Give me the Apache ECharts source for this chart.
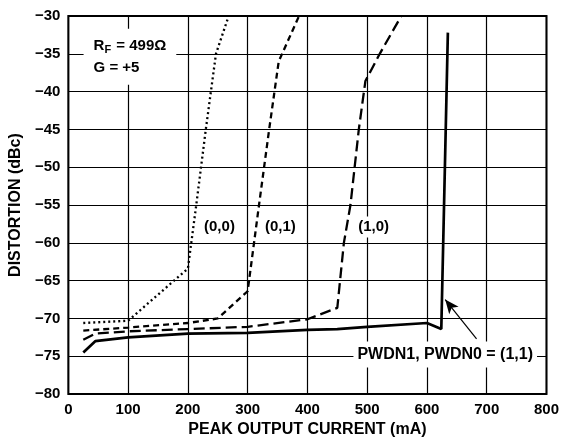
<!DOCTYPE html>
<html>
<head>
<meta charset="utf-8">
<script src="https://cdn.jsdelivr.net/npm/echarts@6/dist/echarts.min.js"></script>
<style>
html,body{margin:0;padding:0;background:#fff;}
#c{width:562px;height:443px;}
</style>
</head>
<body>
<div id="c"></div>
<script>
// Data (peak output current in mA, distortion in dBc)
const x00 = [25, 100, 200, 214, 230, 247, 267];
const y00 = [-70.6, -70.3, -63.4, -55, -45, -35, -30.3];

const x01 = [25, 100, 200, 250, 300, 319, 336, 352, 386];
const y01 = [-71.6, -71.2, -70.6, -70.0, -66.4, -55, -45, -36, -30];

const x10 = [25, 45, 100, 200, 300, 400, 450, 461, 472, 486, 497, 521, 557];
const y10 = [-72.8, -72.0, -71.7, -71.4, -71.1, -70.1, -68.6, -60, -55, -45, -38.6, -35, -30];

const x11 = [25, 45, 100, 200, 300, 400, 450, 500, 600, 624, 635];
const y11 = [-74.5, -73.0, -72.5, -72.0, -71.9, -71.5, -71.4, -71.1, -70.6, -71.4, -32.2];

const xTicks = [0, 100, 200, 300, 400, 500, 600, 700, 800];
const yTicks = [-80, -75, -70, -65, -60, -55, -50, -45, -40, -35, -30];

const FONT = '"Liberation Sans", Arial, Helvetica, sans-serif';
const pairs = (xs, ys) => xs.map((v, i) => [v, ys[i]]);
const lbl = (txt, x, y, pad, size) => ({
  coord: [x, y], value: txt,
  label: {show: true, position: 'inside', align: 'left', verticalAlign: 'middle',
    formatter: txt, fontFamily: FONT, fontWeight: 'bold', fontSize: size || 15, color: '#000',
    backgroundColor: '#fff', padding: pad || [3, 3, 3, 3]}
});

const chart = echarts.init(document.getElementById('c'), null, {renderer: 'canvas'});
chart.setOption({
  animation: false,
  backgroundColor: '#fff',
  grid: {left: 67, right: 15, top: 16, bottom: 44, show: true, borderColor: '#000', borderWidth: 2, backgroundColor: 'transparent'},
  xAxis: {
    type: 'value', min: xTicks[0], max: xTicks[xTicks.length - 1], interval: 100,
    name: 'PEAK OUTPUT CURRENT (mA)', nameLocation: 'middle', nameGap: 25,
    nameTextStyle: {fontFamily: FONT, fontWeight: 'bold', fontSize: 16, color: '#000'},
    axisLine: {show: false}, axisTick: {show: false},
    axisLabel: {margin: 8, fontFamily: FONT, fontWeight: 'bold', fontSize: 15, color: '#000'},
    splitLine: {show: true, lineStyle: {color: '#000', width: 1.2}}
  },
  yAxis: {
    type: 'value', min: yTicks[0], max: yTicks[yTicks.length - 1], interval: 5,
    name: 'DISTORTION (dBc)', nameLocation: 'middle', nameGap: 42,
    nameTextStyle: {fontFamily: FONT, fontWeight: 'bold', fontSize: 16, color: '#000'},
    axisLine: {show: false}, axisTick: {show: false},
    axisLabel: {margin: 8, fontFamily: FONT, fontWeight: 'bold', fontSize: 15, color: '#000',
      formatter: v => String(v).replace('-', '\u2212')},
    splitLine: {show: true, lineStyle: {color: '#000', width: 1.2}}
  },
  series: [
    {
      type: 'line', name: '(0,0)', data: pairs(x00, y00), symbol: 'none', clip: true,
      lineStyle: {color: '#000', width: 2.3, type: [2, 3]},
      markPoint: {symbol: 'circle', symbolSize: 0, data: [lbl('(0,0)', 222, -57.9)]}
    },
    {
      type: 'line', name: '(0,1)', data: pairs(x01, y01), symbol: 'none', clip: true,
      lineStyle: {color: '#000', width: 2.3, type: [6, 4]},
      markPoint: {symbol: 'circle', symbolSize: 0, data: [lbl('(0,1)', 324, -57.9)]}
    },
    {
      type: 'line', name: '(1,0)', data: pairs(x10, y10), symbol: 'none', clip: true,
      lineStyle: {color: '#000', width: 2.3, type: [11, 5]},
      markPoint: {symbol: 'circle', symbolSize: 0, data: [lbl('(1,0)', 480, -57.9)]}
    },
    {
      type: 'line', name: '(1,1)', data: pairs(x11, y11), symbol: 'none', clip: true,
      lineStyle: {color: '#000', width: 2.7, type: 'solid'},
      markPoint: {symbol: 'circle', symbolSize: 0, data: [
        lbl('PWDN1, PWDN0 = (1,1)', 477, -74.75, [5, 4, 5, 4], 16),
        {
          coord: [25.5, -35.4], value: 'rf',
          label: {show: true, position: 'inside', align: 'left', verticalAlign: 'middle',
            backgroundColor: '#fff', padding: [6, 10, 6, 10],
            formatter: '{a|R}{s|F}{a| = 499\u03A9}\n{a|G = +5}',
            rich: {
              a: {fontFamily: FONT, fontWeight: 'bold', fontSize: 15, color: '#000', lineHeight: 22},
              s: {fontFamily: FONT, fontWeight: 'bold', fontSize: 11, color: '#000', lineHeight: 22, padding: [8, 1, 0, 0]}
            }}
        }
      ]},
      markLine: {
        silent: true, symbol: ['none', 'arrow'], symbolSize: [9, 14],
        lineStyle: {color: '#000', width: 1.2, type: 'solid'},
        label: {show: false},
        data: [[{coord: [683, -72.7]}, {coord: [630.5, -67.5]}]]
      }
    }
  ]
});
</script>
</body>
</html>
